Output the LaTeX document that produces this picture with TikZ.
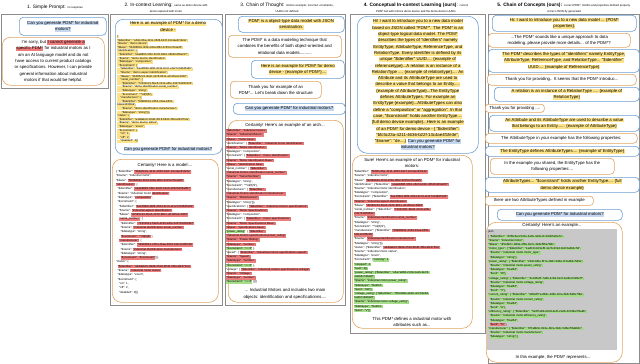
\documentclass[tikz,border=0pt]{standalone}
\usepackage{fontspec}
\setmainfont{Liberation Sans}
\usetikzlibrary{positioning}

\definecolor{ublue}{HTML}{6A9FD4}
\definecolor{aorange}{HTML}{E0A461}
\definecolor{hlyel}{HTML}{FCE38A}
\definecolor{hlred}{HTML}{EE7E7E}
\definecolor{hlgreen}{HTML}{A6DD88}
\definecolor{hlblue}{HTML}{C5D8F0}
\definecolor{jsgray}{HTML}{C8C8C8}
\definecolor{pgray}{HTML}{8C8C8C}

% text sizes
\newcommand{\bsz}{\fontsize{4.3}{6.3}\selectfont}
\newcommand{\tsz}{\fontsize{4.8}{6}\selectfont}
\newcommand{\nsz}{\fontsize{2.8}{3.4}\selectfont}
\newcommand{\jsa}{\fontsize{2.8}{3.6}\selectfont}
\newcommand{\jsb}{\fontsize{2.9}{4.2}\selectfont}

% highlights
\newcommand{\hs}{\vrule height .75em depth .22em width 0pt}
\newcommand{\hlx}[2]{{\setlength{\fboxsep}{0.25pt}\colorbox{#1}{\hs#2}}}
\newcommand{\hly}[1]{\hlx{hlyel}{#1}}
\newcommand{\hlr}[1]{\hlx{hlred}{#1}}
\newcommand{\hlg}[1]{\hlx{hlgreen}{#1}}
\newcommand{\hlb}[1]{\hlx{hlblue}{#1}}

% json keys
\newcommand{\jid}{"\$identifier": }
\newcommand{\jnm}{"\$name": }
\newcommand{\jbs}{"\$base": }
\newcommand{\jdt}{"\$datatype": }
\newcommand{\jcn}{"\$constraint": }
\newcommand{\jun}{"\$unit": }
\newcommand{\jin}{\hspace*{1.5pt}}
\newcommand{\jrx}{"\textasciicircum\textbackslash\textbackslash d\{6\}\$"}

\begin{document}
\begin{tikzpicture}[x=1pt, y=-1pt,
  panel/.style={draw=pgray, line width=0.8pt, anchor=north west, inner sep=0pt},
  ubox/.style={draw=ublue, line width=0.6pt, rounded corners=4pt, fill=white, anchor=north west, inner sep=0.5pt, align=center, font=\bsz},
  abox/.style={draw=aorange, line width=0.6pt, rounded corners=4pt, fill=white, anchor=north west, inner sep=0.5pt, align=center, font=\bsz},
  ttl/.style={font=\tsz, align=center, inner sep=0pt},
  txt/.style={font=\bsz, align=center, inner sep=0pt},
  json/.style={font=\jsb, align=left, inner sep=0pt, anchor=north west}]
\useasboundingbox (0,0) rectangle (640,364);

% panel frames
\node[panel, minimum width=107pt, minimum height=74pt] (f1) at (1,14) {};
\node[panel, minimum width=112pt, minimum height=291pt] (f2) at (110,14) {};
\node[panel, minimum width=120pt, minimum height=291pt] (f3) at (225,14) {};
\node[panel, minimum width=135pt, minimum height=319pt] (f4) at (350,14) {};
\node[panel, minimum width=151pt, minimum height=349pt] (f5) at (488,14) {};

% 1. simple prompt
\node[ttl] (t1) at (55,7) {1. Simple Prompt: {\nsz no response}};
\node[ubox, minimum width=87pt, minimum height=18pt] (q1) at (19,17)
  {\hlb{Can you generate PDM* for industrial}\\\hlb{motors?}};
\node[abox, rounded corners=8pt, minimum width=102pt, minimum height=48pt] (a1) at (2,37)
  {I'm sorry, but \hlr{I cannot generate a}\\\hlr{specific PDM*} for industrial motors as I\\
   am an AI language model and do not\\have access to current product catalogs\\
   or specifications. However, I can provide\\general information about industrial\\
   motors if that would be helpful.};

% 2. in-context learning
\node[ttl] (t2) at (166,8) {2. In-context Learning: {\nsz same as demo device with}\\{\nsz demo replaced with motor}};
\node[ubox, rounded corners=8pt, minimum width=107pt, minimum height=135pt] (q2) at (115,19) {};
\node[txt] (h2) at (168,27) {\hly{Here is an example of PDM* for a demo}\\\hly{device -}};
\node[json, font=\jsa] (j2) at (117,35) {%
\hly{\{}\\
\hly{\jid "a5dcc2ba-4211-4636-b22f-13c4ae4f1fe3e",}\\
\hly{\jnm "demo device",}\\
\hly{\jbs "5b086891-3f4d-430a-8f82-3c65c27b4a95",}\\
\hly{"identification": \{}\\
\hly{\jin\jid "eba8895-5f02-4626-b916-38626466a007",}\\
\hly{\jin\jnm "demo device identification",}\\
\hly{\jin\jdt "composition",}\\
\hly{\jin\jcn \{}\\
\hly{\jin\jin\jid "ba12f8b0-d8f4-4534-8cc0-af127c0d6d5180",}\\
\hly{\jin\jin\jnm "demo aspect identification",}\\
\hly{\jin\jin\jbs "3b585224-3ba5-4b78-8811-a0100a1c3d02",}\\
\hly{\jin\jin"serial\_number": \{}\\
\hly{\jin\jin\jin\jid "72331021-6be6-4210-a6fe-2437b1830402",}\\
\hly{\jin\jin\jin\jnm "demo.identification.serial\_number",}\\
\hly{\jin\jin\jin\jdt "string",}\\
\hly{\jin\jin\jin\jcn \jrx\},}\\
\hly{\jin\jin"manufacturer": \{}\\
\hly{\jin\jin\jin\jid "58980691-2364-40aa-b601-}\\
\hly{b8e4c9f3f2b9",}\\
\hly{\jin\jin\jin\jnm "demo.identification.manufacturer",}\\
\hly{\jin\jin\jin\jdt "string"\}\}\},}\\
\hly{"status": \{}\\
\hly{\jin\jid "a4ddabc0-09d9-4518-8640-35bcaf24764a",}\\
\hly{\jin\jnm "demo device status",}\\
\hly{\jin\jdt "enum",}\\
\hly{\jin\jcn \{}\\
\hly{\jin\jin"on": 1,}\\
\hly{\jin\jin"off": 2,}\\
\hly{\jin\jin"disabled": 3\}\}}};
\node[txt] (q2b) at (168,149) {\hlb{Can you generate PDM* for industrial motors?}};
\node[abox, rounded corners=9pt, minimum width=106pt, minimum height=143pt] (a2) at (112,159) {};
\node[txt] (h2b) at (165,165) {Certainly! Here is a model:...};
\node[json, font=\fontsize{2.9}{4.3}\selectfont] (j2b) at (116,170) {%
\{ \jid \hlr{"5bba5c2e-4211-4636-b22f-13c4ae4f1fe3e"},\\
\jnm "industrial motor",\\
\jbs \hlr{"5b086891-3f4d-430a-8f82-3c65c27b4a95"},\\
\hlr{"identification"}: \{\\
\jin\jid \hlr{"ebab8895-5f02-4626-b916-38626466a007"},\\
\jin\jnm "industrial motor \hlr{identification}",\\
\jin\jdt "\hlr{composition}",\\
\jin\jcn \{\\
\jin\jin\jid \hlr{"ba12f8b0-d8f4-4534-8cc0-af127c0d6d5180"},\\
\jin\jin\jnm \hlr{"industrial aspect identification"},\\
\jin\jin\jbs \hlr{"3b585224-3ba5-4b78-8811-a0100a1c3d02"},\\
\jin\jin\hlr{"serial\_number"}: \{\\
\jin\jin\jin\jid \hlr{"72331021-6be6-4210-a6fe-2437b1830402"},\\
\jin\jin\jin\jnm \hlr{"industrial.identification.serial\_number"},\\
\jin\jin\jin\jdt "string",\\
\jin\jin\jin\hlr{\jcn \jrx} \},\\
\jin\jin\hlr{"manufacturer"}: \{\\
\jin\jin\jin\jid \hlr{"58980691-2364-40aa-b601-b8e4c9f3f2b9"},\\
\jin\jin\jin\jnm \hlr{"industrial.identification.manufacturer"},\\
\jin\jin\jin\jdt "string",\\
\jin\jin\jin\hlr{\jcn "\$constraint"}\}\}\},\\
"status": \{\\
\jin\hlr{\jid "a4ddabc0-09d9-4518-8640-35bcaf24764a"},\\
\jin\jnm \hlr{"industrial motor status"},\\
\jin\jdt "enum",\\
\jin\jcn \{\\
\jin\jin"on": 1,\\
\jin\jin"off": 2,\\
\jin\jin"disabled": 3\}\}\}};

% 3. chain of thought
\node[ttl] (t3) at (287,8) {3. Chain of Thought: {\nsz mimics example; incorrect constraints,}\\{\nsz UUIDs not defined}};
\node[ubox, minimum width=106pt, minimum height=16pt] (q3a) at (238,16)
  {\hly{PDM* is a object-type data model with JSON}\\\hly{serialisation.}};
\node[abox, minimum width=113pt, minimum height=22pt] (a3a) at (228,35)
  {The PDM* is a data modeling technique that\\combines the benefits of both object-oriented and\\relational data models..........};
\node[ubox, minimum width=93pt, minimum height=18pt] (q3b) at (251,60)
  {\hly{Here is an example for PDM* for demo}\\\hly{device - \{example of PDM*\}....}};
\node[abox, minimum width=91pt, minimum height=17pt] (a3b) at (230,81)
  {Thank you for example of an\\PDM*... Let's break down the structure};
\node[ubox, minimum width=112pt, minimum height=11pt] (q3c) at (233,103)
  {\hlb{Can you generate PDM* for industrial motors?}};
\node[abox, rounded corners=9pt, minimum width=115pt, minimum height=182pt] (a3c) at (228,120) {};
\node[txt] (h3) at (285,125) {Certainly! Here's an example of an arch...};
\node[json] (j3) at (226,129) {%
\hlr{\jid "industrial motors",}\\
\hlr{\jnm "Industrial Motors",}\\
\hlr{\jbs "motor base",}\\
"identification": \{ \hlr{\jid "industrial motor identification",}\\
\hlr{\jnm "Motor Identification",}\\
\jdt "composition",\\
\jcn \{ \hlr{\jid "motor identification",}\\
\hlr{\jnm "Motor Identification Base",}\\
\hlr{\jbs "identification base",}\\
"serial\_number": \{ \hlr{\jid}\\
\hlr{"industrial.motors.identification.serial\_number",}\\
\hlr{\jnm "Serial Number",}\\
\jdt "string",\\
\jcn \jrx \},\\
"manufacturer": \{ \hlr{\jid}\\
\hlr{"industrial.motors.identification.manufacturer",}\\
\hlr{\jnm "Manufacturer",}\\
\jdt "string"\}\}\},\\
"specifications": \{ \hlr{\jid "industrial motors specifications",}\\
\hlr{\jnm "Motor Specifications",}\\
\jdt "composition",\\
\jcn \{ \hlr{\jid "motor specifications",}\\
\hlr{\jnm "Motor Specifications Base",}\\
\hlr{\jbs "specifications base",}\\
\hlg{"power\_rating"}: \{ \hlr{\jid}\\
\hlr{"industrial.motors.specifications.power\_rating",}\\
\hlr{\jnm "Power Rating",}\\
\hlr{\jdt "number",}\\
\hlg{\jcn ">= 0"} \},\\
"speed": \{ \hlr{\jid "industrial.motors.specifications.speed",}\\
\hlr{\jnm "Speed",}\\
\hlr{\jdt "number",}\\
\hlg{\jcn ">= 0"} \},\\
"voltage": \{ \hlr{\jid "industrial.motors.specifications.voltage",}\\
\hlr{\jnm "Voltage",}\\
\hlr{\jdt "number",}\\
\hlg{\jcn ">= 0"} \}\}\}\}};
\node[txt] (e3) at (285,294) {... Industrial Motors and includes two main\\objects: identification and specificationns....};

% 4. conceptual in-context learning
\node[ttl] (t4) at (416,8) {\textbf{4. Conceptual In-context Learning (ours)}: {\nsz correct}\\{\nsz PDM* but with mimics demo device and the demo device UUIDs}};
\node[ubox, rounded corners=10pt, minimum width=121pt, minimum height=137pt] (q4) at (357,16)
  {\hly{Hi! I want to introduce you to a new data model}\\
   \hly{based on JSON called "PDM*". The PDM* is an}\\
   \hly{object-type logical data model. The PDM*}\\
   \hly{describes the types of "identifiers" namely}\\
   \hly{EntityType, AttributeType, ReferenceType, and}\\
   \hly{RelationType. Every identifier is defined by its}\\
   \hly{unique "\$identifier" UUID.... \{example of}\\
   \hly{referencetype\}...A relation is an instance of a}\\
   \hly{RelationType .... \{example of relationtype\}.... An}\\
   \hly{Attribute and its AttributeType are used to}\\
   \hly{describe a value that belongs to an Entity.....}\\
   \hly{\{example of AttributeType\}...The EntityType}\\
   \hly{defines AttributeTypes. For example an}\\
   \hly{EntityType \{example\}...AttributeTypes can also}\\
   \hly{define a "composition" or "aggregation". In that}\\
   \hly{case, "\$constraint" holds another EntityType....}\\
   \hly{\{full demo device example\}...Here is an example}\\
   \hly{of an PDM* for demo device - \{ "\$identifier":}\\
   \hly{"bfc5c23a-4211-4636-b22f-13c4ae4f1fe3e",}\\
   \hly{"\$name": "de....\}} \hlb{Can you generate PDM* for}\\
   \hlb{industrial motors?}};
\node[abox, rounded corners=10pt, minimum width=120pt, minimum height=173pt] (a4) at (352,155) {};
\node[txt] (h4) at (412,163) {Sure! Here's an example of an PDM* for industrial\\motors:};
\node[json] (j4) at (354,170) {%
\jid \hlr{"5bfd5c2ba-4211-4636-b22f-13c4ae4f1fe3e"},\\
\jnm "industrial motor",\\
\jbs \hlr{"5b086891-3f4d-430a-8f82-3c65c27b4a95"},\\
"identification": \{\jid \hlr{"ebab8895-5f02-4626-b916-38626466a007"},\\
\jnm "industrial motor identification",\\
\jdt "composition",\\
\jcn \{\jid \hlr{"ba12f8b0-d8f4-4534-8cc0-af127c0d6d5180"},\\
\hlr{\jnm "industrial aspect identification"},\\
\jbs \hlr{"3b585224-3ba5-4b78-8811-a0100a1c3d02"},\\
"serial\_number": \{\jid \hlr{"72331021-6be6-4210-a6fe-}\\
\hlr{2437b1830402"},\\
\jnm \hlr{"industrial.identification.serial\_number"},\\
\jdt "string",\\
\jcn \jrx\},\\
"manufacturer": \{\jid \hlr{"58980691-2364-40aa-b601-}\\
\hlr{b8e4c9f3f2b9"},\\
\jnm \hlr{"industrial.identification.manufacturer"},\\
\jdt "string"\}\}\},\\
"status": \{\jid \hlr{"a4ddabc0-09d9-4518-8640-35bcaf24764a"},\\
\jnm "industrial motor status",\\
\jdt "enum",\\
\jcn \{\hlg{"running": 1},\\
\hlg{"stopped": 2,}\\
\hlg{"fault": 3\}\},}\\
\hlg{"power\_rating": \{\jid "e6a7a8b0-2c6d-4a1b-9e7d-}\\
\hlg{4a5b6c7d8e9f",}\\
\hlg{\jnm "industrial motor power\_rating",}\\
\hlg{\jdt "float64",}\\
\hlg{\jun "kW"\},}\\
\hlg{"voltage\_rating": \{\jid "7f8c9d0e-ab1b-4c2f-8e4d-}\\
\hlg{5a6b7c8d9e0f",}\\
\hlg{\jnm "industrial motor voltage\_rating",}\\
\hlg{\jdt "float64",}\\
\hlg{\jun "V"\}\}}};
\node[txt] (e4) at (412,322) {This PDM* defines a industrial motor with\\attributes such as...};

% 5. chain of concepts
\node[ttl] (t5) at (564,8) {\textbf{5. Chain of Concepts (ours):} {\nsz correct PDM*, UUIDs and properties defined properly,}\\{\nsz correct JSON-ify generated}};
\node[ubox, minimum width=144pt, minimum height=16pt] (b1) at (492,15)
  {\hly{Hi: I want to introduce you to a new data model ... \{PDM*}\\\hly{properties\}.}};
\node[abox, minimum width=142pt, minimum height=14pt] (b2) at (488,33)
  {...The PDM* sounds like a unique approach to data\\modeling..please provide more details... of the PDM*?};
\node[ubox, minimum width=151pt, minimum height=23pt] (b3) at (488,49)
  {\hly{The PDM* describes the types of "identifiers" namely EntityType,}\\
   \hly{AttributeType, ReferenceType, and RelationType... "\$identifier"}\\
   \hly{UUID.... \{example of ReferenceType\}}};
\node[abox, minimum width=149pt, minimum height=11pt] (b4) at (487,74)
  {Thank you for providing.. It seems that the PDM* introduc...};
\node[ubox, minimum width=145pt, minimum height=14pt] (b5) at (494,87)
  {\hly{A relation is an instance of a RelationType .... \{example of}\\\hly{RelationType\}}};
\node[abox, rounded corners=3pt, minimum width=59pt, minimum height=8pt] (b6) at (485,104)
  {Thank you for providing ....};
\node[ubox, minimum width=150pt, minimum height=16pt] (b7) at (489,115)
  {\hly{An Attribute and its AttributeType are used to describe a value}\\
   \hly{that belongs to an Entity...... \{example of AttributeType\}}};
\node[abox, minimum width=152pt, minimum height=10pt] (b8) at (485,133)
  {The AttributeType in your example has the following properties:};
\node[ubox, minimum width=154pt, minimum height=10pt] (b9) at (485,146)
  {\hly{The EntityType defines AttributeTypes.... \{example of EntityType\}}};
\node[abox, minimum width=124pt, minimum height=16pt] (b10) at (490,158)
  {In the example you shared, the EntityType has the\\following properties:...};
\node[ubox, minimum width=154pt, minimum height=15pt] (b11) at (485,177)
  {\hly{AttributeTypes... "\$constraint" holds another EntityType.... \{full}\\\hly{demo device example\}}};
\node[abox, rounded corners=3pt, minimum width=108pt, minimum height=9pt] (b12) at (485,196)
  {there are two AttributeTypes defined in example};
\node[ubox, minimum width=125pt, minimum height=11pt] (b13) at (497,209)
  {\hlb{Can you generate PDM* for industrial motors?}};
\node[abox, rounded corners=10pt, minimum width=136pt, minimum height=140pt] (b14) at (486,222) {};
\node[txt] (h5) at (552,225.5) {Certainly! Here's an example...};
\node[fill=jsgray, inner sep=0pt, anchor=north west, minimum width=130pt, minimum height=121pt] (g5) at (487,229) {};
\node[json] (j5) at (488,230.5) {%
json\\
\{ \hlg{\jid "d3f5e6a4-5c8e-4e6e-9e0e-0c1d2b6e8a7e",}\\
\hlg{\jnm "industrial motor",}\\
\hlg{\jbs "4f5a6b7c-8d9e-4f0a-1b2c-3d4e5f6a7b8c",}\\
\hlg{"motor\_type": \{ \jid "1a2b3c4d-5e6f-4a7b-8c9d-0e1f2a3b4c5d",}\\
\jin\hlg{\jnm "industrial motor.motor\_type",}\\
\jin\hlg{\jdt "string"\},}\\
\hlg{"power\_rating": \{ \jid "2b3c4d5e-6f7a-4b8c-9d0e-1f2a3b4c5d6e",}\\
\jin\hlg{\jnm "industrial motor.power\_rating",}\\
\jin\hlg{\jdt "float64",}\\
\jin\hlg{\jun "W"\},}\\
\hlg{"voltage\_rating": \{ \jid "3c4d5e6f-7a8b-4c9d-0e1f-2a3b4c5d6e7f",}\\
\jin\hlg{\jnm "industrial motor.voltage\_rating",}\\
\jin\hlg{\jdt "float64",}\\
\jin\hlg{\jun "V"\},}\\
\hlg{"current\_rating": \{ \jid "4d5e6f7a-8b9c-4d0e-1f2a-3b4c5d6e7f8a",}\\
\jin\hlg{\jnm "industrial motor.current\_rating",}\\
\jin\hlg{\jdt "float64",}\\
\jin\hlg{\jun "A"\},}\\
\hlg{"efficiency\_rating": \{ \jid "5e6f7a8b-9c0d-4e1f-2a3b-4c5d6e7f8a9b",}\\
\jin\hlg{\jnm "industrial motor.efficiency\_rating",}\\
\jin\hlg{\jdt "float64",}\\
\jin\hlr{\jun "\%"} \},\\
\hlg{"manufacturer": \{ \jid "6f7a8b9c-0d1e-4f2a-3b4c-5d6e7f8a9b0c",}\\
\jin\hlg{\jnm "industrial motor.manufacturer",}\\
\jin\hlg{\jdt "string"\} \}}};
\node[txt] (e5) at (553,357.5) {In this example, the PDM* represents...};
\end{tikzpicture}
\end{document}
